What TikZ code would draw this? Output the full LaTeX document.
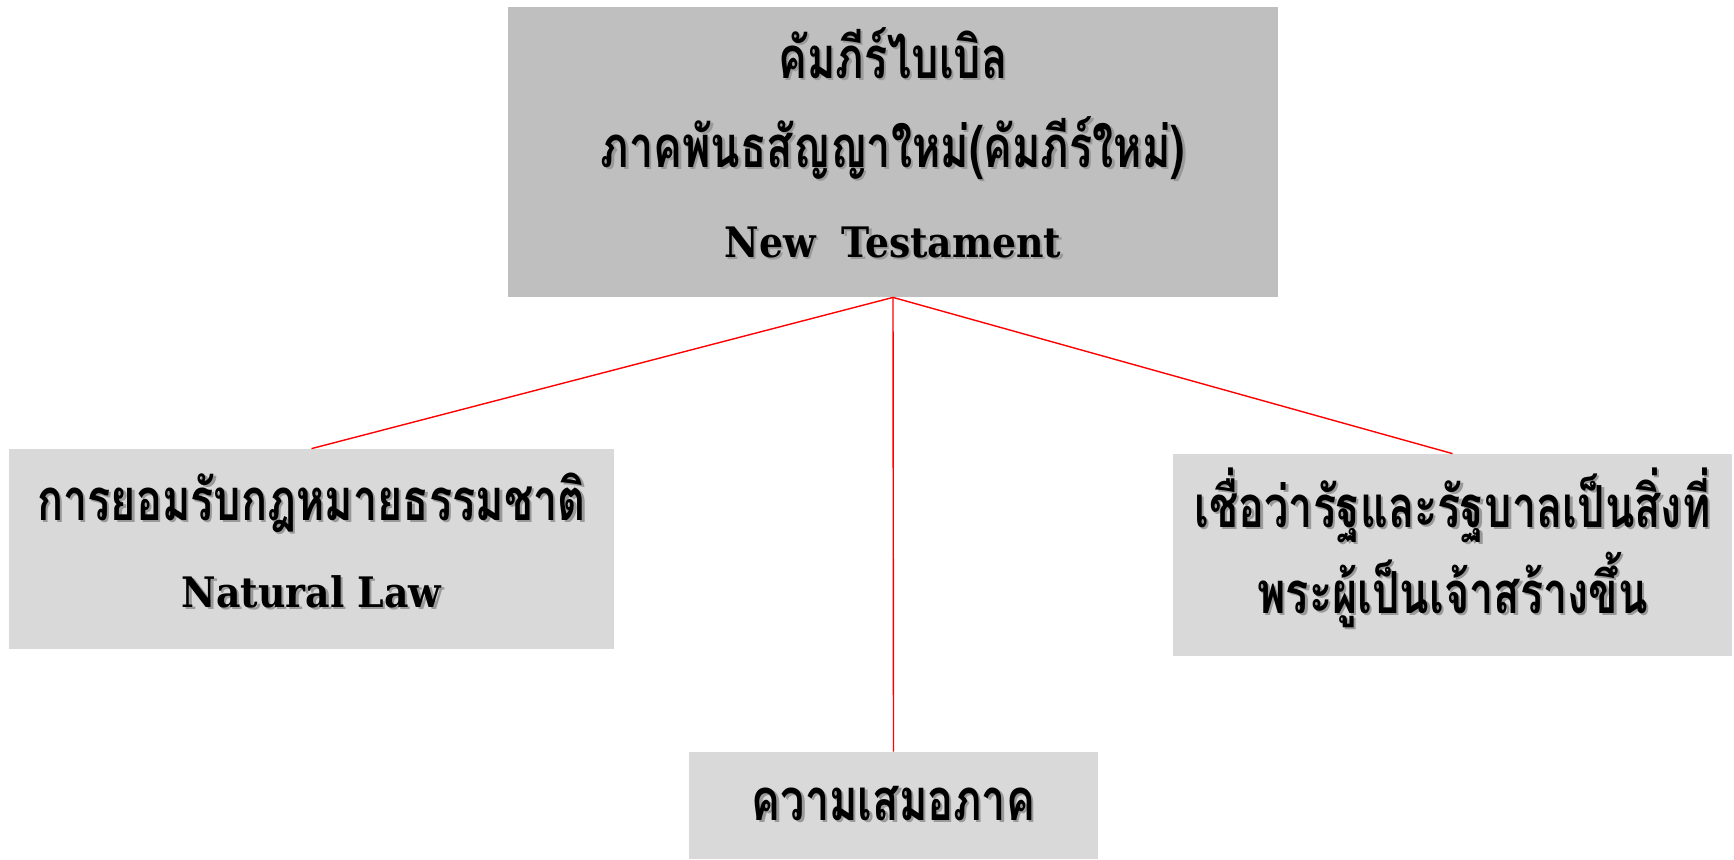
\documentclass[tikz,border=0pt]{standalone}
\usepackage{fontspec}
\newfontfamily\thaifont[Script=Thai,FakeStretch=0.745]{Loma}
\newfontfamily\engfont{DejaVu Serif Condensed}
\newcommand\shd[1]{\leavevmode\rlap{\kern1.2pt\raisebox{-1.2pt}{\color{black!40}#1}}#1}
\definecolor{topgray}{HTML}{BFBFBF}
\definecolor{boxgray}{HTML}{D9D9D9}
\tikzset{
  box/.style={rectangle, fill=boxgray, draw=none, inner sep=0pt, align=center, text=black},
  topbox/.style={box, fill=topgray},
  link/.style={draw=red, line width=0.7pt},
  th/.style={font=\thaifont\bfseries\fontsize{29}{44}\selectfont},
  en/.style={font=\engfont\bfseries\fontsize{21}{30}\selectfont},
}
\begin{document}
\begin{tikzpicture}[x=0.5pt,y=-0.5pt]
\useasboundingbox (0,0) rectangle (1734,859);
\fill[white] (0,0) rectangle (1734,859);
\node[topbox, minimum width=385pt, minimum height=145pt] (T) at (893,152) {};
\node[box, minimum width=302.5pt, minimum height=100pt] (L) at (311.5,549) {};
\node[box, minimum width=279.5pt, minimum height=101pt] (R) at (1452.5,555) {};
\node[box, minimum width=204.5pt, minimum height=53.5pt] (B) at (893.5,805.5) {};
% texts (baselines)
\node[th, anchor=base] (t1) at (893,78) {\shd{คัมภีร์ไบเบิล}};
\node[th, anchor=base] (t2) at (893,167) {\shd{ภาคพันธสัญญาใหม่(คัมภีร์ใหม่)}};
\node[en, anchor=base] (t3) at (893,257) {\shd{New\ \ Testament}};
\node[th, anchor=base] (l1) at (311.5,520) {\shd{การยอมรับกฎหมายธรรมชาติ}};
\node[en, anchor=base] (l2) at (311.5,607) {\shd{Natural Law}};
\node[th, anchor=base] (r1) at (1452.5,527) {\shd{เชื่อว่ารัฐและรัฐบาลเป็นสิ่งที่}};
\node[th, anchor=base] (r2) at (1452.5,613) {\shd{พระผู้เป็นเจ้าสร้างขึ้น}};
\node[th, anchor=base] (b1) at (893.5,820) {\shd{ความเสมอภาค}};
\draw[link] (T.south) -- (L.north);
\draw[link] (T.south) -- (B.north);
\draw[link] (T.south) -- (R.north);
\end{tikzpicture}
\end{document}
